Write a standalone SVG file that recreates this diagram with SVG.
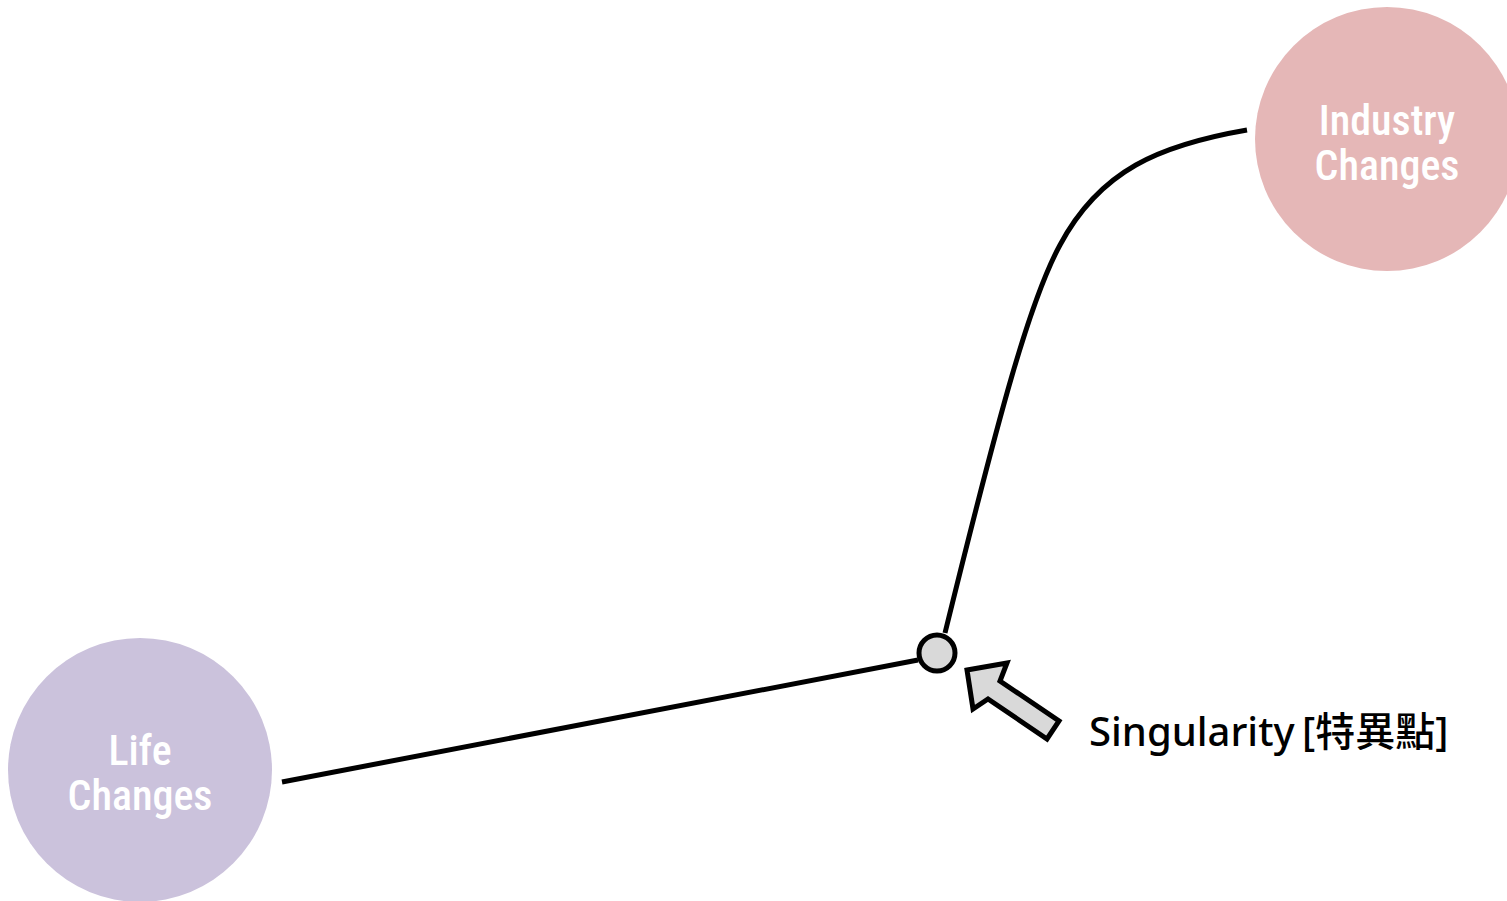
<svg xmlns="http://www.w3.org/2000/svg" width="1507" height="901" viewBox="0 0 1507 901">
<style>
.node-label{font-family:"Liberation Sans Narrow","Roboto","Liberation Sans",sans-serif;font-stretch:condensed;font-size:42px;fill:#ffffff;text-anchor:middle;font-weight:500}
.conn{fill:none;stroke:#000;stroke-width:5}
.label{font-family:"Noto Sans","Noto Sans CJK TC","Noto Sans CJK KR",sans-serif;font-size:40px;font-weight:500;fill:#000}
</style>
<rect width="1507" height="901" fill="#fff"/>
<g id="connectors">
<path class="conn" d="M282,782 L918,660"/>
<path class="conn" d="M945,633 C1000,410 1030,300 1060,245 C1100,170 1160,145 1247,130"/>
</g>
<g id="industry">
<circle cx="1387" cy="139" r="132" fill="#e5b7b7"/>
<text class="node-label" x="1387" y="135">Industry</text>
<text class="node-label" x="1387" y="180">Changes</text>
</g>
<g id="life">
<circle cx="140" cy="770" r="132" fill="#cbc2dc"/>
<text class="node-label" x="140" y="765">Life</text>
<text class="node-label" x="140" y="810">Changes</text>
</g>
<g id="singularity">
<circle cx="937" cy="653" r="18" fill="#d9d9d9" stroke="#000" stroke-width="5"/>
</g>
<g id="pointer">
<polygon points="967,670 1007,663 1000,681 1059,721 1047,739 988,699 973,709" fill="#d9d9d9" stroke="#000" stroke-width="5" stroke-linejoin="miter"/>
</g>
<g id="singularity-label">
<text class="label" x="1089" y="746">Singularity<tspan x="1302">[特異點]</tspan></text>
</g>
</svg>
